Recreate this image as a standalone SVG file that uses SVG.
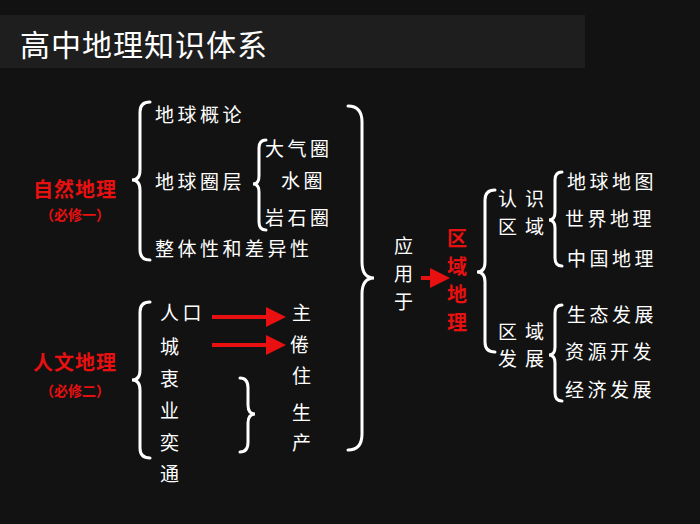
<svg xmlns="http://www.w3.org/2000/svg" width="700" height="524" viewBox="0 0 700 524">
<style>
text{font-family:"Noto Sans CJK SC","Noto Sans CJK JP",sans-serif;fill:#fff;font-size:19px;letter-spacing:3.5px}
.r{fill:#e81010;font-weight:bold;font-size:20px;letter-spacing:1px}
.s{font-size:14px;letter-spacing:0}
.t{font-size:30px;letter-spacing:1px}
.w{letter-spacing:8px}
.b{fill:none;stroke:#fff;stroke-width:3;stroke-linecap:round}
.a{stroke:#e81010;stroke-width:4}
</style>
<defs><marker id="m" markerWidth="5" markerHeight="5" refX="4" refY="2.5" orient="auto"><path d="M0,0 L5,2.5 L0,5z" fill="#e81010"/></marker></defs>
<rect width="700" height="524" fill="#121212"/>
<rect x="0" y="15" width="585" height="53" fill="#1e1e1e"/>
<g id="title"><text class="t" x="20" y="56">高中地理知识体系</text></g>
<g id="connectors">
<path class="b" d="M150 102 Q140 102 140 112 L140 170 Q140 180 132 180 Q140 180 140 190 L140 250 Q140 260 150 260"/>
<path class="b" d="M266 140 Q259 140 259 148 L259 176 Q259 184 253 184 Q259 184 259 192 L259 222 Q259 230 266 230"/>
<path class="b" d="M150 302 Q140 302 140 312 L140 370 Q140 380 132 380 Q140 380 140 390 L140 448 Q140 458 150 458"/>
<path class="b" d="M240 378 Q248 378 248 388 L248 405 Q248 414 255 414 Q248 414 248 423 L248 442 Q248 452 240 452"/>
<path class="b" d="M348 106 Q362 106 362 122 L362 262 Q362 278 374 278 Q362 278 362 294 L362 434 Q362 450 348 450"/>
<path class="b" d="M495 190 Q485 190 485 200 L485 262 Q485 272 477 272 Q485 272 485 282 L485 342 Q485 352 495 352"/>
<path class="b" d="M562 172 Q555 172 555 180 L555 212 Q555 220 549 220 Q555 220 555 228 L555 258 Q555 266 562 266"/>
<path class="b" d="M562 305 Q555 305 555 313 L555 347 Q555 355 549 355 Q555 355 555 363 L555 393 Q555 401 562 401"/>
<line class="a" x1="212" y1="317" x2="282" y2="317" marker-end="url(#m)"/>
<line class="a" x1="212" y1="345" x2="282" y2="345" marker-end="url(#m)"/>
<line class="a" x1="421" y1="278" x2="446" y2="278" marker-end="url(#m)"/>
</g>
<g id="natural"><text class="r" x="33" y="197">自然地理</text><text class="r s" x="40" y="220">（必修一）</text></g>
<g id="n1"><text x="155" y="122">地球概论</text></g>
<g id="n2"><text x="155" y="189">地球圈层</text></g>
<g id="n3"><text x="265" y="156">大气圈</text><text x="281" y="188">水圈</text><text x="265" y="225">岩石圈</text></g>
<g id="n4"><text x="155" y="256">整体性和差异性</text></g>
<g id="human"><text class="r" x="33" y="370">人文地理</text><text class="r s" x="40" y="396">（必修二）</text></g>
<g id="h1"><text x="160" y="320">人口</text>
<text x="160" y="354">城</text><text x="160" y="386">衷</text><text x="160" y="418">业</text><text x="160" y="450">奕</text><text x="160" y="481">通</text></g>
<g id="h2"><text x="292" y="320">主</text><text x="290" y="352">倦</text><text x="292" y="383">住</text><text x="292" y="420">生</text><text x="292" y="450">产</text></g>
<g id="apply"><text x="394" y="253">应</text><text x="394" y="281">用</text><text x="394" y="309">于</text></g>
<g id="region"><text class="r" x="447" y="246">区</text><text class="r" x="447" y="274">域</text><text class="r" x="447" y="302">地</text><text class="r" x="447" y="330">理</text></g>
<g id="r1"><text class="w" x="498" y="206">认识</text><text class="w" x="498" y="234">区域</text></g>
<g id="r2"><text class="w" x="498" y="339">区域</text><text class="w" x="498" y="366">发展</text></g>
<g id="r1a"><text x="567" y="189">地球地图</text><text x="565" y="226">世界地理</text><text x="567" y="266">中国地理</text></g>
<g id="r2a"><text x="567" y="322">生态发展</text><text x="565" y="359">资源开发</text><text x="565" y="397">经济发展</text></g>
</svg>
